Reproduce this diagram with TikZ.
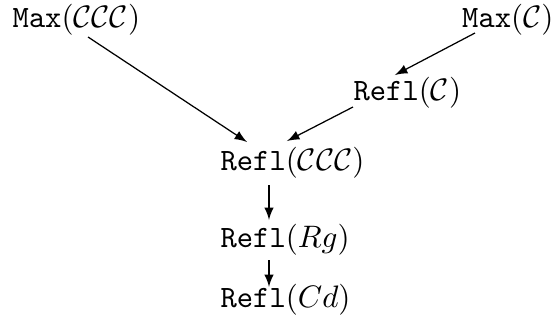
\documentclass[tikz,border=0pt]{standalone}
\usepackage{amssymb}
\usepackage{amsmath}
\usepackage{tikz}
\usetikzlibrary{%
	calc,%
	arrows%
}
\DeclareMathAlphabet{\mathtt}{OT1}{cmtt}{m}{n}

\begin{document}
\begin{tikzpicture}[x=0.322pt, y=-0.322pt]
	\useasboundingbox (0,0) rectangle (555,322);
	% Objects
	\node[inner sep=0, anchor=base west] (mccc) at (12,27) {$\mathtt{Max}(\mathcal{CCC})$};
	\node[inner sep=0, anchor=base east] (mc) at (554,27) {$\mathtt{Max}(\mathcal{C})$};
	\node[inner sep=0, anchor=base west] (rc) at (353,100) {$\mathtt{Refl}(\mathcal{C})$};
	\node[inner sep=0, anchor=base west] (rccc) at (220,170) {$\mathtt{Refl}(\mathcal{CCC})$};
	\node[inner sep=0, anchor=base west] (rrg) at (220,248) {$\mathtt{Refl}(Rg)$};
	\node[inner sep=0, anchor=base west] (rcd) at (220,307) {$\mathtt{Refl}(Cd)$};
	% Arrows
	\draw[-latex] ($(mccc.base west)+(76,10)$) -- ($(rccc.base west)+(27,-28)$);
	\draw[-latex] ($(mc.base east)+(-79,6)$) -- ($(rc.base west)+(42,-25)$);
	\draw[-latex] ($(rc.base west)+(0,7)$) -- ($(rccc.base west)+(67,-29)$);
	\draw[-latex] ($(rccc.base west)+(49,15)$) -- ($(rrg.base west)+(49,-28)$);
	\draw[-latex] ($(rrg.base west)+(49,12)$) -- ($(rcd.base west)+(49,-20)$);
\end{tikzpicture}
\end{document}
